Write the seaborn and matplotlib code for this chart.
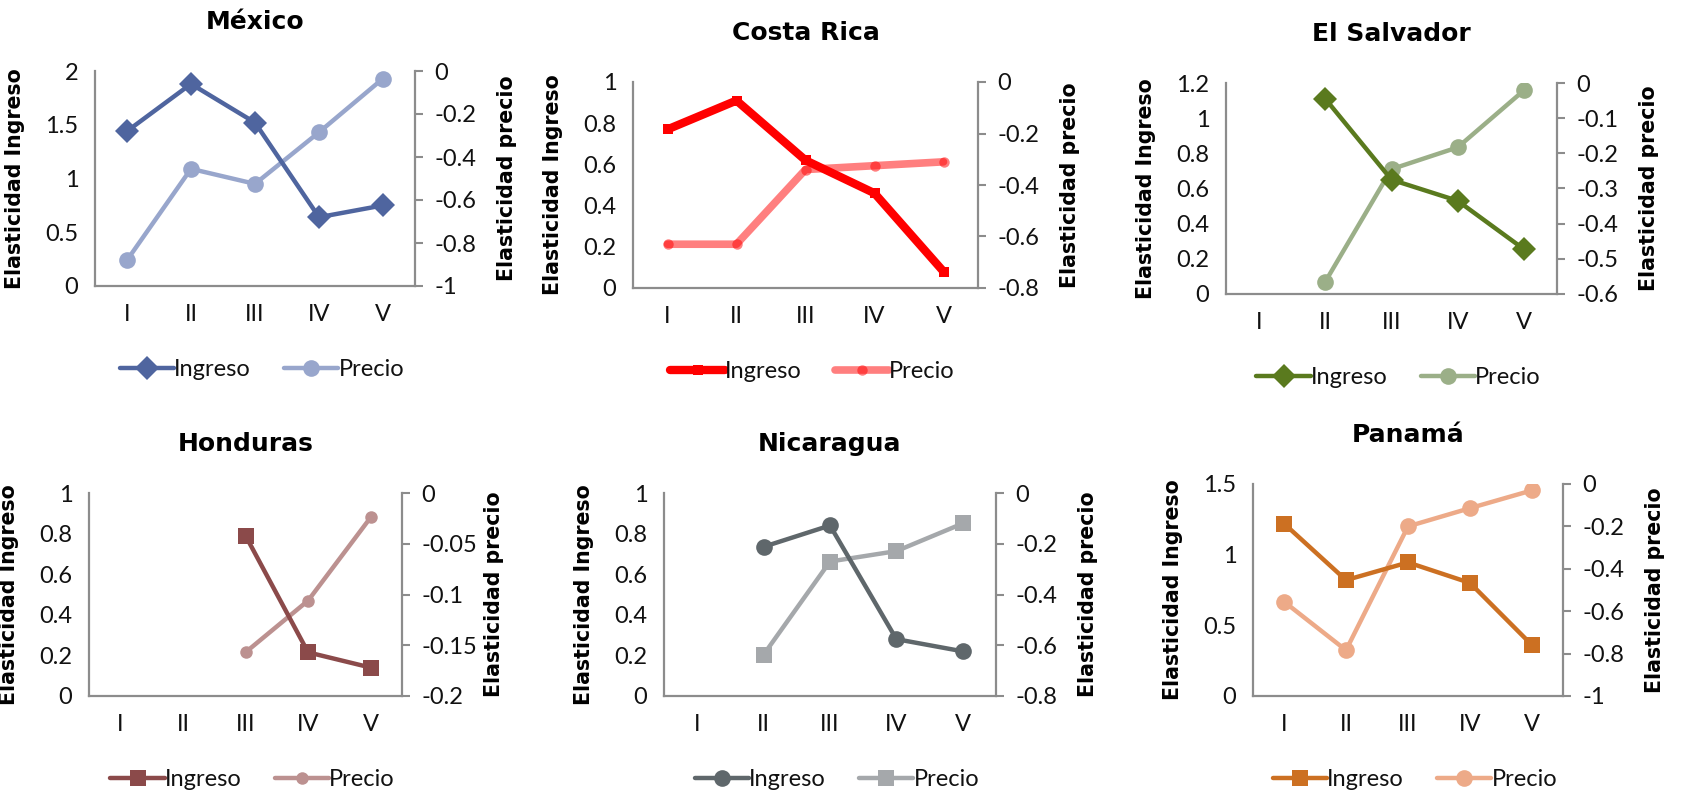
import numpy as np
import pandas as pd
import matplotlib
matplotlib.use("Agg")
import matplotlib.pyplot as plt
import seaborn as sns

nan = np.nan
categories = ["I", "II", "III", "IV", "V"]

mexico_ingreso = [1.44, 1.88, 1.52, 0.64, 0.75]
mexico_precio = [-0.88, -0.455, -0.525, -0.285, -0.035]
costa_rica_ingreso = [0.77, 0.91, 0.62, 0.46, 0.08]
costa_rica_precio = [-0.63, -0.63, -0.34, -0.325, -0.31]
el_salvador_ingreso = [nan, 1.11, 0.65, 0.53, 0.255]
el_salvador_precio = [nan, -0.565, -0.245, -0.183, -0.021]
honduras_ingreso = [nan, nan, 0.79, 0.215, 0.14]
honduras_precio = [nan, nan, -0.157, -0.106, -0.024]
nicaragua_ingreso = [nan, 0.735, 0.84, 0.28, 0.22]
nicaragua_precio = [nan, -0.637, -0.27, -0.229, -0.12]
panama_ingreso = [1.22, 0.82, 0.945, 0.80, 0.36]
panama_precio = [-0.555, -0.784, -0.2, -0.114, -0.03]

titles = ["México", "Costa Rica", "El Salvador", "Honduras", "Nicaragua", "Panamá"]
left_ticks = [
    [0, 0.5, 1, 1.5, 2],
    [0, 0.2, 0.4, 0.6, 0.8, 1],
    [0, 0.2, 0.4, 0.6, 0.8, 1, 1.2],
    [0, 0.2, 0.4, 0.6, 0.8, 1],
    [0, 0.2, 0.4, 0.6, 0.8, 1],
    [0, 0.5, 1, 1.5],
]
right_ticks = [
    [-1, -0.8, -0.6, -0.4, -0.2, 0],
    [-0.8, -0.6, -0.4, -0.2, 0],
    [-0.6, -0.5, -0.4, -0.3, -0.2, -0.1, 0],
    [-0.2, -0.15, -0.1, -0.05, 0],
    [-0.8, -0.6, -0.4, -0.2, 0],
    [-1, -0.8, -0.6, -0.4, -0.2, 0],
]
ingreso = [mexico_ingreso, costa_rica_ingreso, el_salvador_ingreso,
           honduras_ingreso, nicaragua_ingreso, panama_ingreso]
precio = [mexico_precio, costa_rica_precio, el_salvador_precio,
          honduras_precio, nicaragua_precio, panama_precio]

# styles
W, H = 1693, 795
boxes = [  # left, top, right, bottom in pixels
    (95, 71, 415, 286),
    (633, 82, 978, 288),
    (1226, 83, 1557, 294),
    (89, 493, 402, 696),
    (664, 493, 996, 696),
    (1253, 484, 1563, 696),
]
styles_ing = [
    dict(color="#4F659F", marker="D", markersize=12, linewidth=3.2),
    dict(color="#FF0000", marker="s", markersize=7, linewidth=6),
    dict(color="#5A7A1E", marker="D", markersize=12, linewidth=3.2),
    dict(color="#8B4A4A", marker="s", markersize=11, linewidth=3.2),
    dict(color="#5F676B", marker="o", markersize=12, linewidth=3.2),
    dict(color="#CC7022", marker="s", markersize=12, linewidth=3.2),
]
styles_pre = [
    dict(color="#98A6CC", marker="o", markersize=12, linewidth=3.2),
    dict(color="#FF0000", marker="o", markersize=7.5, linewidth=5.5, alpha=0.5),
    dict(color="#9BAF88", marker="o", markersize=12, linewidth=3.2),
    dict(color="#BC9190", marker="o", markersize=9, linewidth=3.2),
    dict(color="#A5A8AB", marker="s", markersize=12, linewidth=3.2),
    dict(color="#EDAA88", marker="o", markersize=12, linewidth=3.2),
]

sns.set_theme(style="white")
plt.rcParams["font.family"] = ["Lato", "DejaVu Sans"]
spine_col = "#8C8C8C"
bold_font = ["DejaVu Sans"]
tick_font = dict(family=["Lato", "DejaVu Sans"], weight="normal", size=17)

fig = plt.figure(figsize=(W / 100, H / 100), dpi=100)
x = np.arange(len(categories))

def fmt(v):
    return f"{round(v, 4):g}"

for i in range(6):
    l, t, r, b = boxes[i]
    wpx, hpx = r - l, b - t
    ax = fig.add_axes([l / W, 1 - b / H, wpx / W, hpx / H])
    ax2 = ax.twinx()

    df = pd.DataFrame({"x": x, "ing": ingreso[i], "pre": precio[i]})
    si = dict(styles_ing[i]); sp = dict(styles_pre[i])
    sns.lineplot(data=df, x="x", y="ing", ax=ax, markeredgewidth=0,
                 markeredgecolor=si["color"], legend=False, **si)
    sns.lineplot(data=df, x="x", y="pre", ax=ax2, markeredgewidth=0,
                 markeredgecolor=sp["color"], legend=False, **sp)
    h1 = ax.lines[-1]; h2 = ax2.lines[-1]

    ax.set_xlim(-0.5, len(categories) - 0.5)
    ax.set_xticks(x)
    ax.set_xticklabels(categories, fontdict=tick_font)
    lt = left_ticks[i]; rt = right_ticks[i]
    ax.set_ylim(lt[0], lt[-1])
    ax.set_yticks(lt)
    ax.set_yticklabels([fmt(v) for v in lt], fontdict=tick_font)
    ax2.set_ylim(rt[0], rt[-1])
    ax2.set_yticks(rt)
    ax2.set_yticklabels([fmt(v) for v in rt], fontdict=tick_font)

    for a in (ax, ax2):
        for s in a.spines.values():
            s.set_visible(False)
        a.grid(False)
        a.set_facecolor("none")
    ax.spines["left"].set_visible(True)
    ax.spines["bottom"].set_visible(True)
    ax2.spines["right"].set_visible(True)
    for s in (ax.spines["left"], ax.spines["bottom"], ax2.spines["right"]):
        s.set_color(spine_col); s.set_linewidth(1.6)

    ax.tick_params(axis="x", length=0, pad=13, labelcolor="#111111")
    ax.tick_params(axis="y", length=0, pad=12, labelcolor="#111111")
    ax2.tick_params(axis="y", length=6, width=1.5, color=spine_col, pad=8,
                    labelcolor="#111111", direction="out")

    ax.set_xlabel("")
    ax.set_ylabel("Elasticidad Ingreso", fontsize=14.8, fontweight="bold",
                  color="black", family=bold_font)
    ax.yaxis.set_label_coords(-70 / wpx, 0.5)
    ax2.set_ylabel("Elasticidad precio", fontsize=14.8, fontweight="bold",
                   color="black", rotation=90, family=bold_font)
    ax2.yaxis.set_label_coords(1 + 82 / wpx, 0.5)

    ax.text(0.5, 1 + 49 / hpx, titles[i], transform=ax.transAxes, ha="center",
            va="center", fontsize=18, fontweight="bold", color="black",
            family=bold_font)

    leg = ax.legend([h1, h2], ["Ingreso", "Precio"], loc="center",
                    bbox_to_anchor=(0.5 + 7 / wpx, -84 / hpx), ncol=2, frameon=False,
                    prop=dict(family=["Lato", "DejaVu Sans"], weight="normal", size=17),
                    handlelength=2.3, handletextpad=0.0,
                    columnspacing=1.4, borderpad=0)
    for txt in leg.get_texts():
        txt.set_color("#111111")
    ax.set_zorder(ax2.get_zorder() + 1)

fig.savefig("out.png", dpi=100, facecolor="white")
